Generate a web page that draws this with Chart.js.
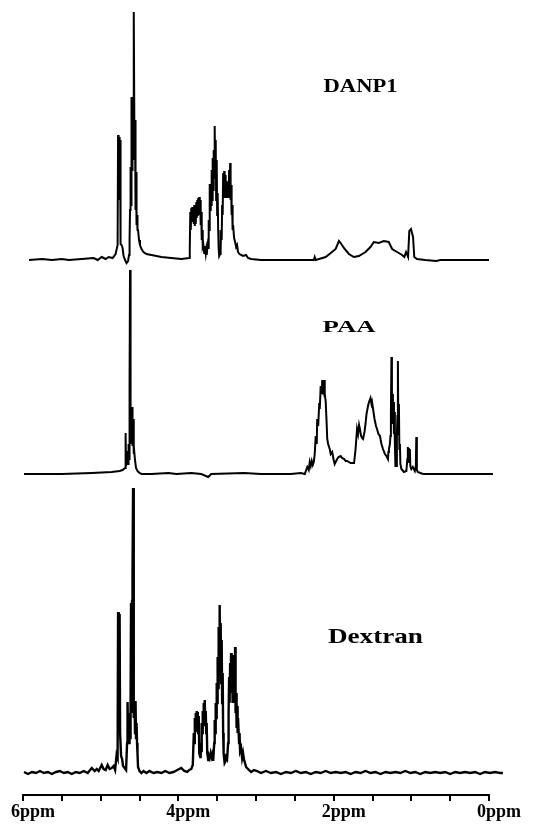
<!DOCTYPE html>
<html>
<head>
<meta charset="utf-8">
<script src="https://cdn.jsdelivr.net/npm/chart.js@4/dist/chart.umd.min.js"></script>
<style>
  html, body { margin: 0; padding: 0; background: #fff; }
  #wrap { width: 537px; height: 826px; }
</style>
</head>
<body>
<div id="wrap"><canvas id="c" width="537" height="826"></canvas></div>
<script>
// ---- Data: [chemical shift (ppm), intensity (arb. units)] ----
const spectrumNames = ['DANP1', 'PAA', 'Dextran'];
const axisLabelPpm = [6, 4, 2, 0];
const axisUnit = 'ppm';

const danp1Points = [[5.923,0],[5.756,1],[5.628,0],[5.500,1],[5.410,0],[5.244,1],[5.090,2],[5.038,0],[4.987,3],[4.936,1],[4.897,3],[4.846,2],[4.808,6],[4.782,15],[4.776,125],[4.769,70],[4.763,123],[4.756,60],[4.750,120],[4.744,16],[4.731,15],[4.718,12],[4.705,4],[4.686,0],[4.667,-3],[4.647,-1],[4.635,5],[4.628,20],[4.622,50],[4.615,93],[4.609,55],[4.603,163],[4.596,90],[4.590,163],[4.583,110],[4.577,160],[4.571,248],[4.564,100],[4.558,140],[4.551,50],[4.545,88],[4.538,35],[4.532,45],[4.526,30],[4.519,30],[4.506,20],[4.494,15],[4.474,11],[4.449,8],[4.410,6],[4.346,5],[4.218,3],[4.090,2],[3.962,1],[3.859,2],[3.853,10],[3.846,48],[3.840,30],[3.833,52],[3.827,38],[3.821,53],[3.814,40],[3.808,52],[3.801,36],[3.795,55],[3.788,34],[3.782,48],[3.776,36],[3.769,58],[3.763,42],[3.756,60],[3.750,44],[3.744,62],[3.737,45],[3.731,63],[3.724,46],[3.718,60],[3.712,35],[3.705,48],[3.699,20],[3.692,30],[3.686,14],[3.679,16],[3.667,7],[3.660,14],[3.647,6],[3.641,10],[3.635,5],[3.622,15],[3.615,12],[3.609,40],[3.603,30],[3.596,76],[3.590,50],[3.583,74],[3.577,55],[3.571,90],[3.564,60],[3.558,102],[3.551,70],[3.545,110],[3.538,82],[3.532,134],[3.526,85],[3.519,120],[3.513,60],[3.506,100],[3.500,45],[3.494,67],[3.487,30],[3.481,12],[3.474,4],[3.462,6],[3.455,12],[3.449,30],[3.442,20],[3.436,55],[3.429,45],[3.423,87],[3.417,62],[3.410,89],[3.404,62],[3.397,85],[3.391,63],[3.385,79],[3.378,62],[3.372,78],[3.365,62],[3.359,77],[3.353,62],[3.346,90],[3.340,65],[3.333,97],[3.327,60],[3.321,75],[3.314,45],[3.308,55],[3.301,30],[3.295,35],[3.282,22],[3.269,18],[3.256,13],[3.244,15],[3.231,8],[3.212,6],[3.192,5],[3.167,4],[3.128,5],[3.103,2],[3.064,1],[2.936,0],[2.551,0],[2.256,0],[2.244,3],[2.231,0],[2.103,3],[2.038,7],[1.974,11],[1.932,19],[1.910,17],[1.868,12],[1.804,6],[1.740,3],[1.676,4],[1.590,8],[1.526,13],[1.483,18],[1.419,17],[1.355,19],[1.291,18],[1.247,11],[1.183,8],[1.119,5],[1.090,3],[1.068,8],[1.042,3],[1.026,29],[1.004,31],[0.978,23],[0.962,3],[0.927,1],[0.821,0],[0.679,-1],[0.628,0],[0.372,0],[0.000,0]];

const paaPoints = [[5.987,0],[5.500,0],[5.115,1],[4.859,2],[4.756,3],[4.718,4],[4.686,6],[4.679,41],[4.673,8],[4.660,14],[4.654,23],[4.647,10],[4.641,30],[4.635,15],[4.628,90],[4.622,204],[4.615,40],[4.609,67],[4.603,30],[4.596,67],[4.590,28],[4.583,55],[4.577,20],[4.571,28],[4.558,14],[4.545,6],[4.526,3],[4.500,1],[4.474,0],[4.346,0],[4.128,1],[4.026,0],[3.833,1],[3.705,0],[3.615,-3],[3.577,0],[3.154,1],[2.936,0],[2.551,0],[2.423,1],[2.372,0],[2.340,7],[2.321,4],[2.308,12],[2.295,8],[2.282,13],[2.269,9],[2.256,12],[2.244,20],[2.231,38],[2.218,30],[2.212,55],[2.199,48],[2.186,71],[2.179,65],[2.167,88],[2.154,80],[2.147,94],[2.135,85],[2.122,94],[2.115,80],[2.103,73],[2.090,50],[2.083,35],[2.071,30],[2.051,25],[2.038,20],[2.019,22],[2.000,14],[1.987,10],[1.968,13],[1.955,15],[1.936,17],[1.910,18],[1.891,16],[1.865,15],[1.846,13],[1.827,13],[1.782,11],[1.737,11],[1.718,25],[1.699,45],[1.686,40],[1.673,49],[1.660,44],[1.647,38],[1.635,36],[1.622,35],[1.603,42],[1.590,50],[1.577,60],[1.558,68],[1.545,72],[1.526,76],[1.513,70],[1.506,72],[1.487,62],[1.474,55],[1.455,48],[1.442,45],[1.423,40],[1.404,38],[1.385,30],[1.365,25],[1.340,20],[1.321,18],[1.301,15],[1.295,22],[1.288,25],[1.276,30],[1.269,38],[1.263,60],[1.256,117],[1.250,50],[1.244,80],[1.237,55],[1.231,72],[1.224,40],[1.218,62],[1.212,30],[1.205,8],[1.199,20],[1.192,8],[1.186,40],[1.179,58],[1.173,113],[1.167,40],[1.160,70],[1.154,25],[1.147,30],[1.141,10],[1.128,5],[1.096,2],[1.064,3],[1.051,15],[1.045,27],[1.038,12],[1.032,26],[1.026,14],[1.019,25],[1.013,8],[1.000,5],[0.981,7],[0.955,3],[0.942,8],[0.936,37],[0.929,4],[0.917,2],[0.885,1],[0.846,0],[0.628,0],[0.372,0],[-0.051,0]];

const dextranPoints = [[5.987,1],[5.936,-1],[5.885,1],[5.833,0],[5.782,2],[5.731,0],[5.679,1],[5.628,-1],[5.577,1],[5.526,2],[5.474,0],[5.423,1],[5.372,-1],[5.321,1],[5.269,0],[5.218,2],[5.167,0],[5.115,5],[5.077,2],[5.051,4],[5.026,2],[4.987,8],[4.962,4],[4.936,3],[4.910,8],[4.885,4],[4.859,5],[4.833,7],[4.814,3],[4.795,18],[4.782,15],[4.776,161],[4.769,60],[4.763,159],[4.756,155],[4.750,40],[4.737,17],[4.724,14],[4.712,7],[4.692,5],[4.673,3],[4.660,30],[4.654,71],[4.647,40],[4.641,60],[4.635,30],[4.628,58],[4.622,35],[4.615,71],[4.609,170],[4.603,60],[4.596,172],[4.590,200],[4.583,285],[4.577,90],[4.571,55],[4.564,72],[4.558,40],[4.551,72],[4.545,35],[4.538,50],[4.532,30],[4.526,20],[4.519,6],[4.500,2],[4.474,0],[4.449,2],[4.410,0],[4.372,2],[4.321,0],[4.269,1],[4.218,0],[4.167,2],[4.115,0],[4.064,1],[4.013,3],[3.962,5],[3.923,2],[3.885,1],[3.859,3],[3.833,4],[3.814,8],[3.801,40],[3.795,30],[3.788,55],[3.782,42],[3.776,60],[3.769,44],[3.763,62],[3.756,46],[3.750,61],[3.744,40],[3.737,57],[3.731,20],[3.718,16],[3.712,30],[3.705,22],[3.699,50],[3.692,40],[3.686,62],[3.679,48],[3.673,70],[3.667,50],[3.660,73],[3.654,52],[3.647,62],[3.641,40],[3.635,50],[3.628,20],[3.615,13],[3.609,18],[3.596,15],[3.583,20],[3.571,16],[3.558,20],[3.551,12],[3.538,30],[3.532,53],[3.526,40],[3.519,70],[3.513,55],[3.506,90],[3.500,70],[3.494,116],[3.487,85],[3.481,146],[3.474,100],[3.468,168],[3.462,110],[3.455,150],[3.449,90],[3.442,133],[3.436,70],[3.429,100],[3.423,40],[3.417,20],[3.404,10],[3.391,12],[3.385,16],[3.372,14],[3.359,30],[3.353,60],[3.346,96],[3.340,70],[3.333,110],[3.327,80],[3.321,120],[3.314,85],[3.308,118],[3.301,70],[3.295,100],[3.288,75],[3.282,106],[3.276,70],[3.269,126],[3.263,60],[3.256,80],[3.250,45],[3.244,67],[3.237,40],[3.231,55],[3.218,30],[3.212,40],[3.205,22],[3.192,25],[3.179,15],[3.167,20],[3.154,13],[3.141,10],[3.128,6],[3.103,4],[3.064,1],[3.026,3],[2.987,2],[2.936,0],[2.872,2],[2.808,0],[2.744,1],[2.679,-1],[2.615,1],[2.551,0],[2.487,2],[2.423,0],[2.359,1],[2.295,-1],[2.231,1],[2.167,0],[2.103,2],[2.038,0],[1.974,1],[1.910,0],[1.846,1],[1.782,-1],[1.718,1],[1.654,0],[1.590,2],[1.526,0],[1.462,1],[1.397,-1],[1.333,1],[1.269,0],[1.205,1],[1.141,0],[1.077,2],[1.013,0],[0.949,1],[0.885,-1],[0.821,1],[0.756,0],[0.692,1],[0.628,0],[0.564,1],[0.500,-1],[0.436,1],[0.372,0],[0.308,1],[0.244,0],[0.179,1],[0.115,-1],[0.051,1],[-0.013,0],[-0.077,1],[-0.141,0],[-0.179,0]];

// ---- Layout / style (not data) ----
const stackOffsets = [535, 321, 22];          // vertical offset of each trace
const traceWidths = [2, 2, 2.4];
const labelSpots = [                           // where each trace name sits (ppm, y value, font size, target width)
  { ppm: 1.654, y: 703, size: 18, width: 74 },
  { ppm: 1.801, y: 463, size: 16, width: 53 },
  { ppm: 1.462, y: 152, size: 22, width: 95 }
];

const series = [danp1Points, paaPoints, dextranPoints];
const datasets = series.map((pts, k) => ({
  label: spectrumNames[k],
  data: pts.map(([p, v]) => ({ x: p, y: stackOffsets[k] + v })),
  borderColor: '#000',
  borderWidth: traceWidths[k],
  pointRadius: 0,
  tension: 0,
  fill: false,
  clip: false
}));

const nameLabels = {
  id: 'nameLabels',
  afterDatasetsDraw(chart) {
    const { ctx, scales } = chart;
    spectrumNames.forEach((name, k) => {
      const s = labelSpots[k];
      ctx.save();
      ctx.font = 'bold ' + s.size + 'px "Liberation Serif", "DejaVu Serif", serif';
      const w = ctx.measureText(name).width;
      ctx.translate(scales.x.getPixelForValue(s.ppm), scales.y.getPixelForValue(s.y));
      ctx.scale(s.width / w, 1);
      ctx.textAlign = 'center';
      ctx.textBaseline = 'alphabetic';
      ctx.fillStyle = '#000';
      ctx.fillText(name, 0, 0);
      ctx.restore();
    });
  }
};

new Chart(document.getElementById('c'), {
  type: 'line',
  data: { datasets },
  options: {
    responsive: false,
    animation: false,
    events: [],
    layout: { padding: { left: 22, right: 48, top: 0, bottom: 0 } },
    plugins: { legend: { display: false }, tooltip: { enabled: false }, title: { display: false } },
    scales: {
      x: {
        type: 'linear',
        reverse: true,
        min: 0,
        max: 6,
        afterFit(scale) { scale.height = 31; },
        border: { display: true, color: '#000', width: 2 },
        grid: { display: true, drawOnChartArea: false, drawTicks: true, tickLength: 6, color: '#000', lineWidth: 2 },
        ticks: {
          stepSize: 0.5,
          autoSkip: false,
          maxRotation: 0,
          minRotation: 0,
          padding: 1,
          labelOffset: 10,
          color: '#000',
          font: { family: '"Liberation Serif", "DejaVu Serif", serif', weight: 'bold', size: 18 },
          callback: (v) => axisLabelPpm.includes(v) ? v + axisUnit : ''
        }
      },
      y: {
        display: false,
        min: 0,
        max: 795
      }
    }
  },
  plugins: [nameLabels]
});
</script>
</body>
</html>
